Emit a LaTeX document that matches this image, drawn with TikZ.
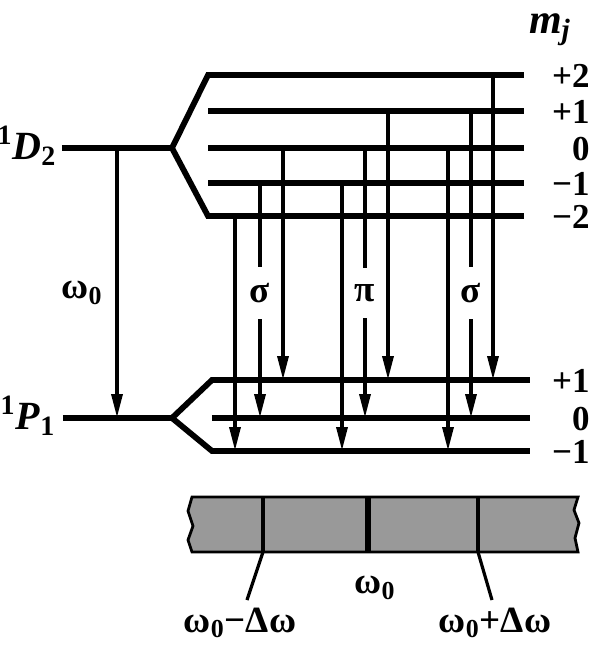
\documentclass[tikz,border=0pt]{standalone}
\usepackage{fontspec}
\setmainfont{Liberation Serif}
\usetikzlibrary{arrows.meta}

\tikzset{
  enlevel/.style={line width=2.9pt},
  trans/.style={line width=1.9pt,-{Triangle[length=12pt,width=5.4pt]}},
  lab/.style={font=\fontsize{18.5}{22}\selectfont\bfseries, inner sep=0pt},
  mlab/.style={font=\fontsize{17.5}{20}\selectfont\bfseries, inner sep=0pt, anchor=base east},
  term/.style={font=\fontsize{20}{24}\selectfont\bfseries, inner sep=1pt},
}
\newcommand{\wnull}{ω\textsubscript{0}}

\begin{document}
\begin{tikzpicture}[x=0.5pt,y=-0.5pt]
    \useasboundingbox (0,0) rectangle (598,650);

    % upper term and its sublevels
    \draw[enlevel] (62,148) -- (172,148);
    \draw[enlevel] (524,75) -- (208,75) -- (172,148) -- (208,216) -- (524,216);
    \foreach \y in {111,148,183}
        \draw[enlevel] (208,\y) -- (524,\y);

    % lower term and its sublevels
    \draw[enlevel] (63,418) -- (172,418);
    \draw[enlevel] (530,380) -- (212,380) -- (172,418) -- (212,451) -- (530,451);
    \draw[enlevel] (212,418) -- (530,418);

    \node[term] (D2) at (27,146) {\textsuperscript{1}\textit{D}\textsubscript{2}};
    \node[term] (P1) at (28,416) {\textsuperscript{1}\textit{P}\textsubscript{1}};

    % m_j values
    \node[lab,font=\fontsize{21}{24}\selectfont\bfseries] (mj) at (550,30) {\textit{m}\textsubscript{\textit{j}}};
    \foreach \y/\m in {75/+2,111/+1,148/0,183/−1,216/−2,380/+1,418/0,451/−1}
        \node[mlab] (m\y) at (590,\y+12) {\m};

    % zero field line
    \draw[trans] (117,148) -- (117,418);
    \node[lab] (w0) at (82,293) {\wnull};

    % Zeeman components
    \foreach \x/\a/\b in {235/216/451, 260/183/418, 283/148/380,
                          342/183/451, 365/148/418, 388/111/380,
                          448/148/451, 471/111/418, 493/75/380}
        \draw[trans] (\x,\a) -- (\x,\b);
    \node[lab,fill=white,inner ysep=8pt,inner xsep=1pt] (sig1) at (260,293) {σ};
    \node[lab,fill=white,inner ysep=8pt,inner xsep=1pt] (pi) at (365,293) {π};
    \node[lab,fill=white,inner ysep=8pt,inner xsep=1pt] (sig2) at (471,293) {σ};

    % spectrum
    \draw[line width=1.4pt,fill=black!40]
        (192,497) -- (578,497) -- (574,510) -- (579,523) -- (575,538) -- (578,552)
        -- (192,552) -- (188,540) -- (193,526) -- (188,511) -- cycle;
    \draw[line width=2.2pt] (263,497) -- (263,552);
    \draw[line width=3.2pt] (368,497) -- (368,552);
    \draw[line width=2.2pt] (478,497) -- (478,552);

    \node[lab] (lo) at (240,623) {\wnull−Δω};
    \node[lab] (mid) at (375,588) {\wnull};
    \node[lab] (hi) at (495,623) {\wnull+Δω};
    \coordinate (lotop) at (247,600);
    \coordinate (hitop) at (492,600);
    \draw[line width=1.6pt] (263,552) -- (lotop);
    \draw[line width=1.6pt] (478,552) -- (hitop);
\end{tikzpicture}
\end{document}
